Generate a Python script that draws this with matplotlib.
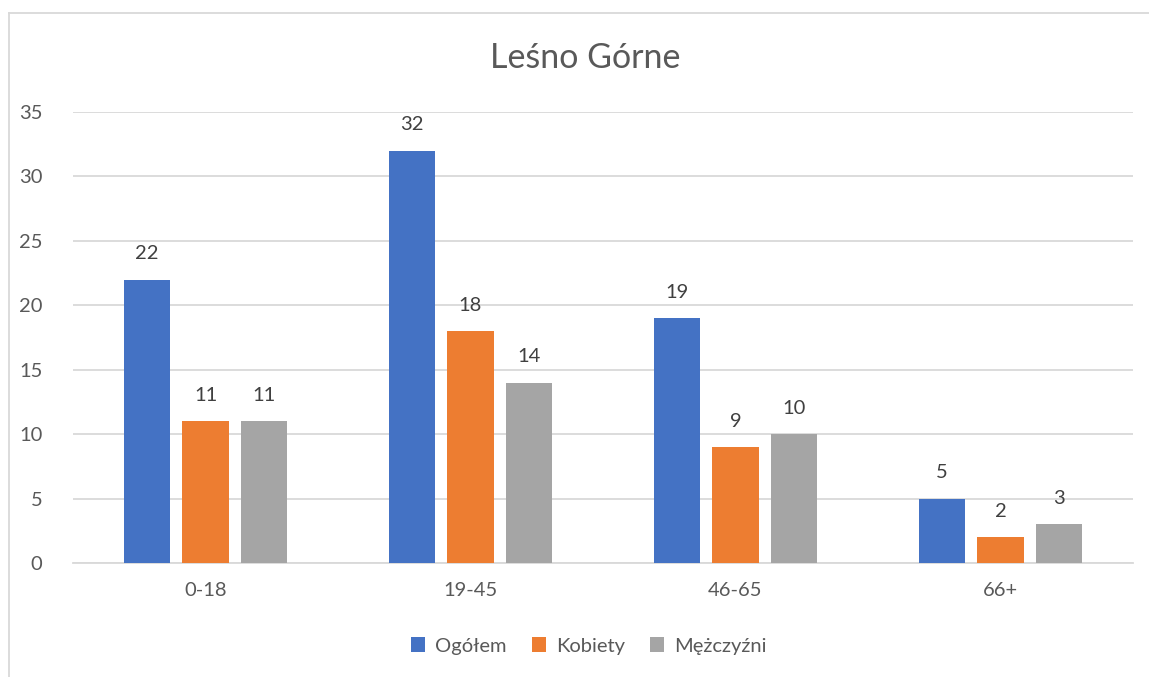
import matplotlib
matplotlib.use("Agg")
import matplotlib.pyplot as plt
from matplotlib.lines import Line2D
from matplotlib.patches import Patch
import numpy as np

categories = ["0-18", "19-45", "46-65", "66+"]
series_names = ["Ogółem", "Kobiety", "Mężczyźni"]
ogolem = [22, 32, 19, 5]
kobiety = [11, 18, 9, 2]
mezczyzni = [11, 14, 10, 3]
title = "Leśno Górne"
yticks = [0, 5, 10, 15, 20, 25, 30, 35]

colors = ["#4472C4", "#ED7D31", "#A5A5A5"]
text_color = "#595959"
plt.rcParams['font.family'] = ['Lato', 'DejaVu Sans']

W, H = 1149, 677
fig = plt.figure(figsize=(W / 100, H / 100), dpi=100)
ax = fig.add_axes([73 / W, 1 - 563 / H, (1133 - 73) / W, (563 - 112) / H])

# chart border
fig.add_artist(Line2D([8.5 / W, 8.5 / W], [0, 1 - 13 / H], transform=fig.transFigure, color="#D9D9D9", lw=1.3))
fig.add_artist(Line2D([8.5 / W, 1], [1 - 13 / H, 1 - 13 / H], transform=fig.transFigure, color="#D9D9D9", lw=1.3))

x = np.arange(len(categories))
width = 0.1736
step = 0.2208
data = [ogolem, kobiety, mezczyzni]
for i, (vals, col, name) in enumerate(zip(data, colors, series_names)):
    pos = x + (i - 1) * step
    bars = ax.bar(pos, vals, width=width, color=col, label=name, zorder=3)
    for xp, v in zip(pos, vals):
        ax.annotate(str(v), (xp, v), xytext=(0, 26), textcoords="offset pixels",
                    ha="center", va="center", fontsize=14.5, color="#404040")

ax.set_xlim(-0.5, 3.5)
ax.set_ylim(0, 35)
ax.set_yticks(yticks)
ax.set_xticks(x)
ax.set_xticklabels(categories)
ax.grid(axis="y", color="#D9D9D9", lw=1.3, zorder=0)
for s in ["top", "right", "left"]:
    ax.spines[s].set_visible(False)
ax.spines["bottom"].set_color("#D9D9D9")
ax.spines["bottom"].set_linewidth(1.3)
ax.tick_params(axis="both", length=0, labelsize=14.5, labelcolor=text_color)
ax.tick_params(axis="y", pad=22)
ax.tick_params(axis="x", pad=14)

fig.text(585 / W, 1 - 58 / H, title, ha="center", va="center", fontsize=24.5, color=text_color)

handles = [Patch(facecolor=c, edgecolor="none") for c in colors]
fig.legend(handles, series_names, loc="center", bbox_to_anchor=(589 / W, 1 - 646 / H),
           ncol=3, frameon=False, fontsize=14.5, labelcolor=text_color,
           handlelength=0.7, handleheight=0.7, handletextpad=0.5, columnspacing=1.25)

fig.savefig("out.png", dpi=100, facecolor="white")
